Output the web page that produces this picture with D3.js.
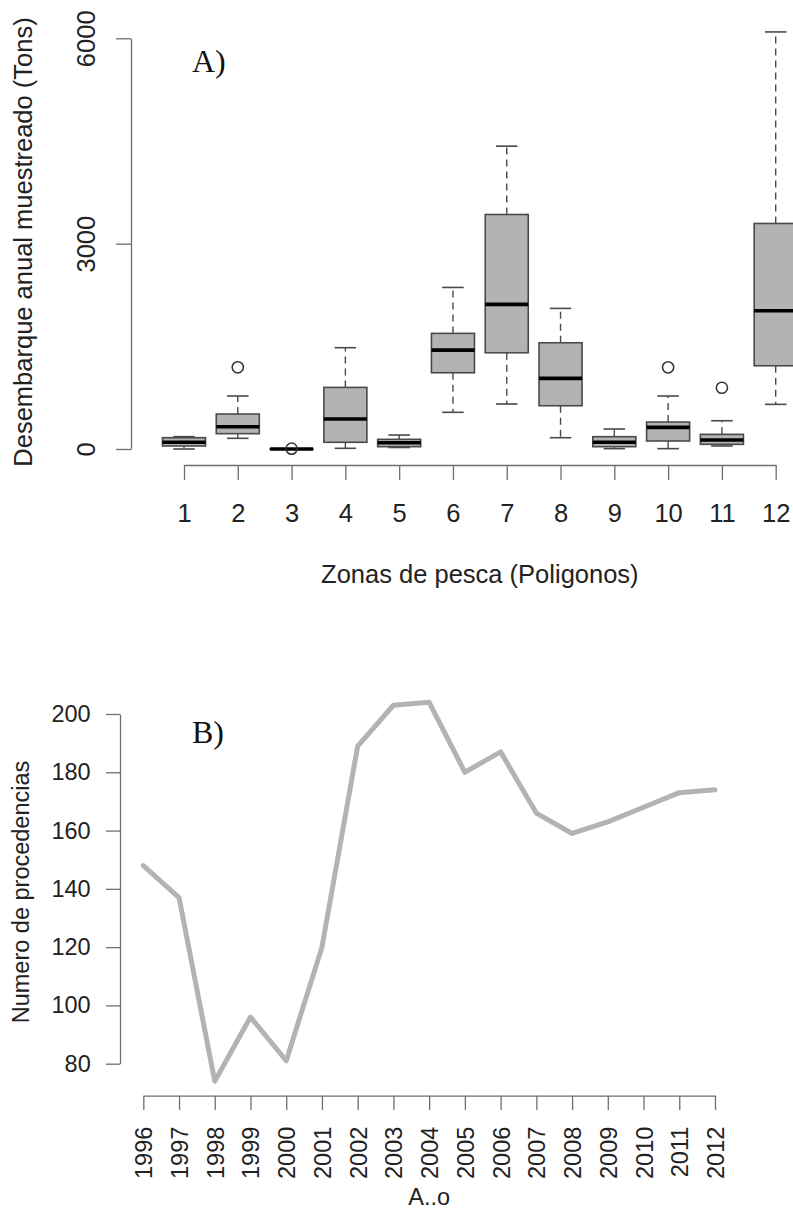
<!DOCTYPE html>
<html>
<head>
<meta charset="utf-8">
<script src="https://cdn.jsdelivr.net/npm/d3@7"></script>
<style>
  html, body { margin: 0; padding: 0; background: #fff; }
  svg { display: block; }
  text { font-family: "Liberation Sans", Arial, sans-serif; fill: #222; }
  .panel-tag { font-family: "Liberation Serif", "Times New Roman", serif; fill: #111; }
</style>
</head>
<body>
<script>
// ---- Panel A data: boxplot per fishing zone ----
const zones = [1, 2, 3, 4, 5, 6, 7, 8, 9, 10, 11, 12];
const whiskerLow = [0, 156, 0, 10, 22, 536, 657, 165, 5, 5, 44, 652];
const q1 = [44, 224, 0, 98, 34, 1114, 1406, 632, 34, 117, 68, 1216];
const medians = [98, 326, 0, 438, 92, 1445, 2113, 1032, 98, 316, 131, 2020];
const q3 = [165, 511, 0, 900, 141, 1689, 3426, 1552, 180, 394, 214, 3295];
const whiskerHigh = [180, 774, 0, 1480, 204, 2360, 4424, 2054, 292, 774, 413, 6093];
const outliers = [[], [1193], [5], [], [], [], [], [], [], [1193], [895], []];
const yTicksA = [0, 3000, 6000];

// ---- Panel B data: number of origins per year ----
const years = [1996, 1997, 1998, 1999, 2000, 2001, 2002, 2003, 2004, 2005, 2006, 2007, 2008, 2009, 2010, 2011, 2012];
const counts = [148, 137, 74, 96, 81, 120, 189, 203, 204, 180, 187, 166, 159, 163, 168, 173, 174];
const yTicksB = [80, 100, 120, 140, 160, 180, 200];

const W = 793, H = 1209;
const axisColor = "#6e6e6e";
const boxStroke = "#4a4a4a";
const fontA = 25.5;
const fontB = 23.5;

const svg = d3.select("body").append("svg").attr("width", W).attr("height", H);

// =========== Panel A ===========
const xA = d3.scaleLinear().domain([1, 12]).range([184, 775.7]);
const yA = d3.scaleLinear().domain([0, 6000]).range([449, 38.3]);
const gA = svg.append("g");

// y axis
const yAxisA = gA.append("g")
  .attr("transform", "translate(131,0)")
  .call(d3.axisLeft(yA).tickValues(yTicksA).tickSize(15).tickSizeOuter(0).tickFormat(d3.format("d")));
yAxisA.select(".domain").attr("stroke", axisColor).attr("stroke-width", 1.3);
yAxisA.selectAll(".tick line").attr("stroke", axisColor).attr("stroke-width", 1.3);
yAxisA.selectAll(".tick text")
  .attr("x", 0).attr("y", 0).attr("dy", 0)
  .attr("transform", "translate(-36,0) rotate(-90)")
  .style("text-anchor", "middle")
  .style("font-size", fontA + "px")
  .style("fill", "#222");

// x axis
const xAxisA = gA.append("g")
  .attr("transform", "translate(0,465)")
  .call(d3.axisBottom(xA).tickValues(zones).tickSize(15).tickSizeOuter(0).tickFormat(d3.format("d")));
xAxisA.select(".domain").attr("stroke", axisColor).attr("stroke-width", 1.3);
xAxisA.selectAll(".tick line").attr("stroke", axisColor).attr("stroke-width", 1.3);
xAxisA.selectAll(".tick text")
  .attr("y", 56.7).attr("dy", 0)
  .style("font-size", fontA + "px")
  .style("fill", "#222");

// boxes
const step = xA(2) - xA(1);
const halfBox = step * 0.4;
const halfCap = halfBox * 0.5;

zones.forEach((z, i) => {
  const cx = xA(z);
  const g = gA.append("g").attr("class", "box");

  // dashed whiskers
  g.append("line")
    .attr("x1", cx).attr("x2", cx)
    .attr("y1", yA(q3[i])).attr("y2", yA(whiskerHigh[i]))
    .attr("stroke", boxStroke).attr("stroke-width", 1.4).attr("stroke-dasharray", "7,5");
  g.append("line")
    .attr("x1", cx).attr("x2", cx)
    .attr("y1", yA(q1[i])).attr("y2", yA(whiskerLow[i]))
    .attr("stroke", boxStroke).attr("stroke-width", 1.4).attr("stroke-dasharray", "7,5");

  // staples
  [whiskerHigh[i], whiskerLow[i]].forEach((v) => {
    g.append("line")
      .attr("x1", cx - halfCap).attr("x2", cx + halfCap)
      .attr("y1", yA(v)).attr("y2", yA(v))
      .attr("stroke", boxStroke).attr("stroke-width", 1.6);
  });

  // box
  g.append("rect")
    .attr("x", cx - halfBox)
    .attr("y", yA(q3[i]))
    .attr("width", halfBox * 2)
    .attr("height", Math.max(0.01, yA(q1[i]) - yA(q3[i])))
    .attr("fill", "#b3b3b3")
    .attr("stroke", boxStroke)
    .attr("stroke-width", 1.6);

  // median
  g.append("line")
    .attr("x1", cx - halfBox).attr("x2", cx + halfBox)
    .attr("y1", yA(medians[i])).attr("y2", yA(medians[i]))
    .attr("stroke", "#000").attr("stroke-width", 3.6);

  // outliers
  g.selectAll("circle")
    .data(outliers[i])
    .enter()
    .append("circle")
    .attr("cx", cx)
    .attr("cy", (d) => yA(d))
    .attr("r", 5.6)
    .attr("fill", "none")
    .attr("stroke", "#333")
    .attr("stroke-width", 1.5);
});

// titles A
gA.append("text")
  .attr("transform", "translate(32,242) rotate(-90)")
  .style("text-anchor", "middle")
  .style("font-size", fontA + "px")
  .text("Desembarque anual muestreado (Tons)");

gA.append("text")
  .attr("x", (xA(1) + xA(12)) / 2)
  .attr("y", 583)
  .style("text-anchor", "middle")
  .style("font-size", fontA + "px")
  .text("Zonas de pesca (Poligonos)");

gA.append("text")
  .attr("class", "panel-tag")
  .attr("x", 192)
  .attr("y", 72)
  .style("font-size", "32px")
  .text("A)");

// =========== Panel B ===========
const xB = d3.scaleLinear().domain([1996, 2012]).range([143.3, 715]);
const yB = d3.scaleLinear().domain([80, 200]).range([1063.7, 714]);
const gB = svg.append("g");

const yAxisB = gB.append("g")
  .attr("transform", "translate(120,0)")
  .call(d3.axisLeft(yB).tickValues(yTicksB).tickSize(14).tickPadding(15.3).tickSizeOuter(0));
yAxisB.select(".domain").attr("stroke", axisColor).attr("stroke-width", 1.3);
yAxisB.selectAll(".tick line").attr("stroke", axisColor).attr("stroke-width", 1.3);
yAxisB.selectAll(".tick text")
  .style("font-size", fontB + "px")
  .style("fill", "#222");

const xAxisB = gB.append("g")
  .attr("transform", "translate(0,1095.7)")
  .call(d3.axisBottom(xB).tickValues(years).tickSize(14.3).tickSizeOuter(0).tickFormat(d3.format("d")));
xAxisB.select(".domain").attr("stroke", axisColor).attr("stroke-width", 1.3);
xAxisB.selectAll(".tick line").attr("stroke", axisColor).attr("stroke-width", 1.3);
xAxisB.selectAll(".tick text")
  .attr("x", 0).attr("y", 0).attr("dy", "0.36em")
  .attr("transform", "translate(0,31) rotate(-90)")
  .style("text-anchor", "end")
  .style("font-size", fontB + "px")
  .style("fill", "#222");

// line
const line = d3.line()
  .x((d, i) => xB(years[i]))
  .y((d) => yB(d));

gB.append("path")
  .datum(counts)
  .attr("d", line)
  .attr("fill", "none")
  .attr("stroke", "#b3b3b3")
  .attr("stroke-width", 5)
  .attr("stroke-linejoin", "round")
  .attr("stroke-linecap", "round");

// titles B
gB.append("text")
  .attr("transform", "translate(29,892) rotate(-90)")
  .style("text-anchor", "middle")
  .style("font-size", fontB + "px")
  .text("Numero de procedencias");

gB.append("text")
  .attr("x", (xB(1996) + xB(2012)) / 2)
  .attr("y", 1205)
  .style("text-anchor", "middle")
  .style("font-size", fontB + "px")
  .text("A..o");

gB.append("text")
  .attr("class", "panel-tag")
  .attr("x", 192)
  .attr("y", 743.3)
  .style("font-size", "32px")
  .text("B)");
</script>
</body>
</html>
